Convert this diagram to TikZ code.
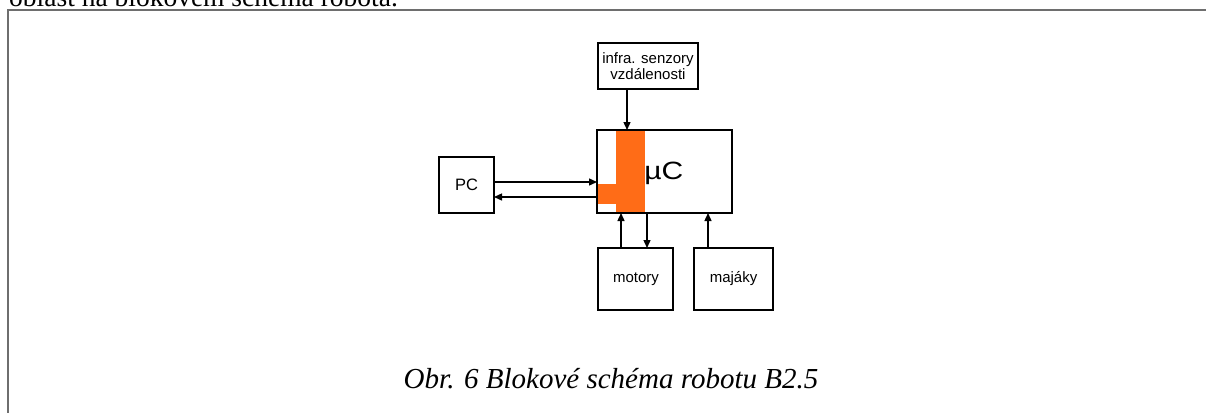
\documentclass[tikz,border=0pt]{standalone}
\usepackage{fontspec}
\setmainfont{Liberation Serif}
\newfontfamily\arialf{Liberation Sans}
\usetikzlibrary{arrows.meta}
\definecolor{orng}{RGB}{255,108,23}
\definecolor{frm}{RGB}{110,110,110}
\tikzset{
  blk/.style={draw=black, line width=1.4pt, fill=white},
  lbl/.style={font=\arialf\fontsize{15}{16}\selectfont, align=center, inner sep=0pt},
  conn/.style={line width=1.4pt, -{Triangle[length=8pt,width=7pt]}},
}
\begin{document}
\begin{tikzpicture}[x=1pt,y=-1pt]
\useasboundingbox (0,0) rectangle (1206,412);
\clip (0,0) rectangle (1206,412);
\fill[white] (0,0) rectangle (1206,412);
% cut-off heading line above the frame
\node[anchor=base west, inner sep=0pt, font=\fontsize{27.5}{30}\selectfont] (hd) at (9,6.5) {oblast na blokovém schéma robota.};
% frame
\draw[frm, line width=1.5pt] (8,430) -- (8,10) -- (1215,10);
% boxes
\draw[blk] (598,43) rectangle (698,89);
\node[lbl] (infra) at (648,66) {infra. senzory\\vzdálenosti};
\coordinate (infraS) at (627,89);
\draw[blk] (597,130) rectangle (732,213);
\fill[orng] (616,130) rectangle (645,213);
\fill[orng] (597.7,184) rectangle (616,204);
\node[anchor=base west, inner sep=0pt, xscale=1.2, font=\arialf\fontsize{25}{28}\selectfont] (uc) at (644,179) {µC};
\draw[black, line width=1.4pt] (597,130) rectangle (732,213);
\draw[blk] (439,157) rectangle (494,213);
\node[lbl, font=\arialf\fontsize{16.5}{18}\selectfont] (pc) at (466.5,185) {PC};
\draw[blk] (598,248) rectangle (673,310);
\node[lbl] (mot) at (636,279) {motory};
\draw[blk] (694,248) rectangle (773,310);
\node[lbl] (maj) at (733.5,279) {majáky};
% connector end points
\coordinate (ucN) at (627,130);
\coordinate (pcE1) at (494,182);
\coordinate (ucW1) at (597,182);
\coordinate (pcE2) at (494,197);
\coordinate (ucW2) at (597,197);
\coordinate (motN1) at (621,248);
\coordinate (ucS1) at (621,213);
\coordinate (motN2) at (647,248);
\coordinate (ucS2) at (647,213);
\coordinate (majN) at (708,248);
\coordinate (ucS3) at (708,213);
\draw[conn] (infraS) -- (ucN);
\draw[conn] (pcE1) -- (ucW1);
\draw[conn] (ucW2) -- (pcE2);
\draw[conn] (motN1) -- (ucS1);
\draw[conn] (ucS2) -- (motN2);
\draw[conn] (majN) -- (ucS3);
% caption
\node[anchor=base, inner sep=0pt, font=\itshape\fontsize{29}{32}\selectfont] (cap) at (611,388) {Obr. 6 Blokové schéma robotu B2.5};
\end{tikzpicture}
\end{document}
